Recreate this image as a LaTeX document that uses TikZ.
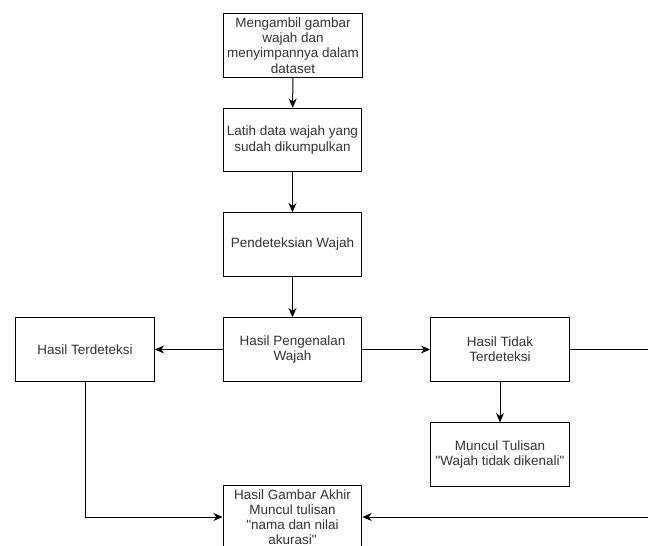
\documentclass[tikz,border=0pt]{standalone}
\usepackage{fontspec}
\setmainfont{Liberation Sans}[Ligatures=TeXOff]
\usetikzlibrary{arrows.meta}

\tikzset{
  box/.style={draw, line width=0.75pt, minimum width=104pt, minimum height=47.5pt,
    align=center, inner sep=1pt, text=black!80, font=\fontsize{10.1}{11.5}\selectfont},
  arrow/.style={line width=0.75pt, -{Stealth[length=7pt, width=6pt]}},
  line/.style={line width=0.75pt}
}

\begin{document}
\begin{tikzpicture}[x=0.75pt, y=-0.75pt]
  % frame of the reference, connector on the right runs out of it
  \path[use as bounding box, clip] (0,0) rectangle (648,545);

  % main column
  \node[box] (ambil) at (293,45.5) {Mengambil gambar\\wajah dan\\menyimpannya dalam\\dataset};
  \node[box] (latih) at (292.5,140) {Latih data wajah yang\\sudah dikumpulkan};
  \node[box] (deteksi) at (292.5,244.5) {Pendeteksian Wajah};
  \node[box] (kenal) at (292.5,349.5) {Hasil Pengenalan\\Wajah};
  \node[box, font=\fontsize{10.1}{11.1}\selectfont] (akhir) at (292.5,517)
    {Hasil Gambar Akhir\\Muncul tulisan\\"nama dan nilai\\akurasi"};

  % branches
  \node[box] (terdeteksi) at (85,349.5) {Hasil Terdeteksi};
  \node[box] (tidak) at (500,349.5) {Hasil Tidak\\Terdeteksi};
  \node[box] (muncul) at (500,454.5) {Muncul Tulisan\\"Wajah tidak dikenali"};

  \coordinate (keluar) at (700,349.5);

  \draw[arrow] (ambil) -- (latih);
  \draw[arrow] (latih) -- (deteksi);
  \draw[arrow] (deteksi) -- (kenal);
  \draw[arrow] (kenal) -- (terdeteksi);
  \draw[arrow] (kenal) -- (tidak);
  \draw[arrow] (tidak) -- (muncul);
  \draw[arrow] (terdeteksi.south) |- (akhir.west);
  \draw[arrow] (tidak.east) -- (keluar) |- (akhir.east);
\end{tikzpicture}
\end{document}
